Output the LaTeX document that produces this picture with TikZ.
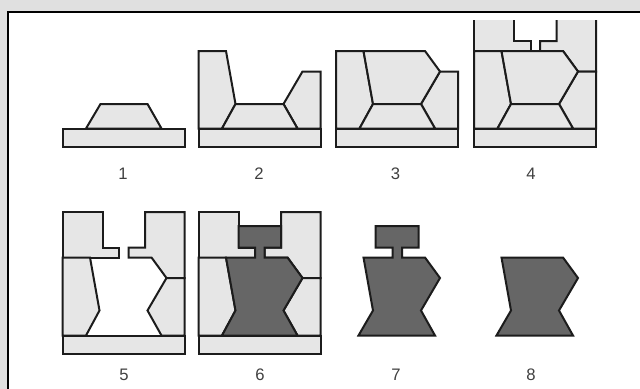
\documentclass[tikz,border=0pt]{standalone}
\usepackage{fontspec}
\setmainfont{Liberation Sans}
\definecolor{pagegrey}{HTML}{E0E0E0}
\definecolor{partgrey}{HTML}{E6E6E6}
\definecolor{metalgrey}{HTML}{666666}
\definecolor{inkblack}{HTML}{1C1C1C}
\begin{document}
\begin{tikzpicture}[
    x=0.75pt, y=-0.75pt,
    frame/.style={draw=black, line width=1.5pt},
    part/.style={draw=inkblack, line width=1.5pt, fill=partgrey, line join=miter},
    metal/.style={draw=inkblack, line width=1.5pt, fill=metalgrey, line join=miter},
    numlabel/.style={font=\fontsize{12.5pt}{14pt}\selectfont, text=black!75}
]
\useasboundingbox (0,0) rectangle (640,389);
\fill[pagegrey] (0,0) rectangle (640,389);
\fill[white] (8,11.5) rectangle (640,389);
\draw[frame] (8,389) -- (8,11.5) -- (640,11.5);

% top row
\begin{scope}
\draw[part] (86,128.5) -- (100.5,104) -- (147.5,104) -- (161.5,128.5) -- cycle;
\draw[part] (62.5,128.5) rectangle (184.5,147);
\end{scope}

\begin{scope}[shift={(136,0)}]
\draw[part] (62.5,128.5) -- (62.5,51) -- (90,51) -- (99.5,104) -- (86,128.5) -- cycle;
\draw[part] (147.5,104) -- (166.5,71.5) -- (184.5,71.5) -- (184.5,128.5) -- (161.5,128.5) -- cycle;
\draw[part] (86,128.5) -- (99.5,104) -- (147.5,104) -- (161.5,128.5) -- cycle;
\draw[part] (62.5,128.5) rectangle (184.5,147);
\end{scope}

\begin{scope}[shift={(273.5,0)}]
\draw[part] (62.5,128.5) -- (62.5,51) -- (90,51) -- (99.5,104) -- (86,128.5) -- cycle;
\draw[part] (147.5,104) -- (166.5,71.5) -- (184.5,71.5) -- (184.5,128.5) -- (161.5,128.5) -- cycle;
\draw[part] (90,51) -- (151.5,51) -- (166.5,71.5) -- (147.5,104) -- (99.5,104) -- cycle;
\draw[part] (86,128.5) -- (99.5,104) -- (147.5,104) -- (161.5,128.5) -- cycle;
\draw[part] (62.5,128.5) rectangle (184.5,147);
\end{scope}

\begin{scope}[shift={(411.5,0)}]
\draw[part] (102.5,20) -- (102.5,41) -- (119,41) -- (119,51) -- (62.5,51) -- (62.5,20);
\draw[part] (145,20) -- (145,41) -- (128.5,41) -- (128.5,51) -- (151.5,51) -- (166.5,71.5) -- (184.5,71.5) -- (184.5,20);
\draw[part] (62.5,128.5) -- (62.5,51) -- (90,51) -- (99.5,104) -- (86,128.5) -- cycle;
\draw[part] (147.5,104) -- (166.5,71.5) -- (184.5,71.5) -- (184.5,128.5) -- (161.5,128.5) -- cycle;
\draw[part] (90,51) -- (151.5,51) -- (166.5,71.5) -- (147.5,104) -- (99.5,104) -- cycle;
\draw[part] (86,128.5) -- (99.5,104) -- (147.5,104) -- (161.5,128.5) -- cycle;
\draw[part] (62.5,128.5) rectangle (184.5,147);
\end{scope}

% bottom row
\begin{scope}
\draw[part] (102.5,212) -- (102.5,247.5) -- (119,247.5) -- (119,257.5) -- (62.5,257.5) -- (62.5,212) -- cycle;
\draw[part] (145,212) -- (145,247.5) -- (128.5,247.5) -- (128.5,257.5) -- (151.5,257.5) -- (166.5,278) -- (184.5,278) -- (184.5,212) -- cycle;
\draw[part] (62.5,335.5) -- (62.5,257.5) -- (90,257.5) -- (99.5,310.5) -- (86,335.5) -- cycle;
\draw[part] (147.5,310.5) -- (166.5,278) -- (184.5,278) -- (184.5,335.5) -- (161.5,335.5) -- cycle;
\draw[part] (62.5,335.5) rectangle (184.5,354);
\end{scope}

\begin{scope}[shift={(136,0)}]
\draw[part] (102.5,212) -- (102.5,247.5) -- (119,247.5) -- (119,257.5) -- (62.5,257.5) -- (62.5,212) -- cycle;
\draw[part] (145,212) -- (145,247.5) -- (128.5,247.5) -- (128.5,257.5) -- (151.5,257.5) -- (166.5,278) -- (184.5,278) -- (184.5,212) -- cycle;
\draw[part] (62.5,335.5) -- (62.5,257.5) -- (90,257.5) -- (99.5,310.5) -- (86,335.5) -- cycle;
\draw[part] (147.5,310.5) -- (166.5,278) -- (184.5,278) -- (184.5,335.5) -- (161.5,335.5) -- cycle;
\draw[metal] (102.5,226) -- (145,226) -- (145,247.5) -- (128.5,247.5) -- (128.5,257.5) -- (151.5,257.5) -- (166.5,278) -- (147.5,310.5) -- (161.5,335.5) -- (86,335.5) -- (99.5,310.5) -- (90,257.5) -- (119,257.5) -- (119,247.5) -- (102.5,247.5) -- cycle;
\draw[part] (62.5,335.5) rectangle (184.5,354);
\end{scope}

\begin{scope}[shift={(273.5,0)}]
\draw[metal] (102,226) -- (145,226) -- (145,247.5) -- (128.5,247.5) -- (128.5,257.5) -- (151.5,257.5) -- (166.5,278) -- (147.5,310.5) -- (161.5,335.5) -- (85,335.5) -- (99.5,310.5) -- (90,257.5) -- (119,257.5) -- (119,247.5) -- (102,247.5) -- cycle;
\end{scope}

\begin{scope}[shift={(411.5,0)}]
\draw[metal] (90,257.5) -- (151.5,257.5) -- (166.5,278) -- (147.5,310.5) -- (161.5,335.5) -- (85,335.5) -- (99.5,310.5) -- cycle;
\end{scope}

\node[numlabel] (one) at (123,174) {1};
\node[numlabel] (two) at (259,174) {2};
\node[numlabel] (three) at (395.5,174) {3};
\node[numlabel] (four) at (531,174) {4};
\node[numlabel] (five) at (124,375) {5};
\node[numlabel] (six) at (260,375) {6};
\node[numlabel] (seven) at (396,375) {7};
\node[numlabel] (eight) at (531,375) {8};
\end{tikzpicture}
\end{document}
